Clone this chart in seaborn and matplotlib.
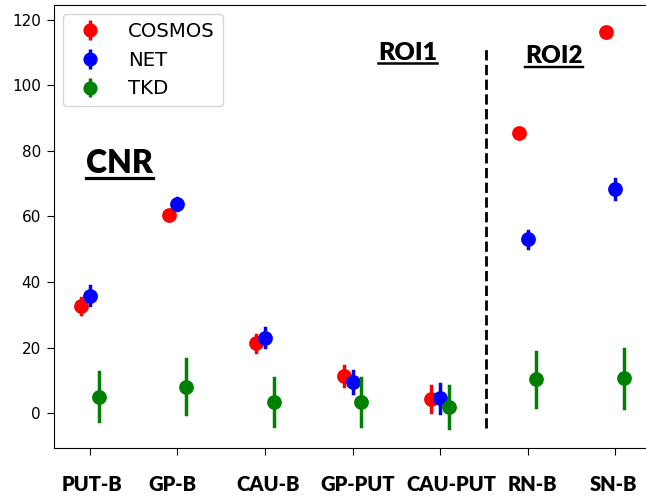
import numpy as np
import pandas as pd
import matplotlib
matplotlib.use("Agg")
import matplotlib.pyplot as plt
from matplotlib.lines import Line2D
from matplotlib.transforms import ScaledTranslation
import seaborn as sns

# ---- data ----
regions = ["PUT-B", "GP-B", "CAU-B", "GP-PUT", "CAU-PUT", "RN-B", "SN-B"]
methods = ["COSMOS", "NET", "TKD"]
colors = ["red", "blue", "green"]

cosmos_mean = [32.8, 60.5, 21.3, 11.4, 4.4, 85.5, 116.2]
cosmos_err = [2.4, 1.2, 2.6, 3.0, 4.0, 1.3, 1.3]
net_mean = [35.9, 63.7, 23.0, 9.6, 4.5, 53.0, 68.4]
net_err = [2.8, 1.8, 2.9, 3.3, 4.4, 2.7, 3.0]
tkd_mean = [5.1, 8.1, 3.5, 3.5, 1.8, 10.4, 10.7]
tkd_err = [7.6, 8.3, 7.4, 7.3, 6.4, 8.4, 9.0]

means = {"COSMOS": cosmos_mean, "NET": net_mean, "TKD": tkd_mean}
errs = {"COSMOS": cosmos_err, "NET": net_err, "TKD": tkd_err}

# long table: each (region, method) as lower/upper bound; mean = centre, min/max = bar ends
rows = []
for m in methods:
    for r, mu, e in zip(regions, means[m], errs[m]):
        rows.append({"region": r, "method": m, "value": mu - e})
        rows.append({"region": r, "method": m, "value": mu + e})
df = pd.DataFrame(rows)

fig = plt.figure(figsize=(6.46, 4.96), dpi=100)
ax = fig.add_axes([54 / 646, 48 / 496, 597 / 646, 443 / 496])

MS = 8.6
sns.pointplot(
    data=df, x="region", y="value", hue="method",
    order=regions, hue_order=methods, palette=colors,
    estimator="mean", errorbar=lambda v: (v.min(), v.max()),
    dodge=0.2, linestyles="none", markers="o",
    markersize=MS, err_kws={"linewidth": 2.5},
    legend=False, ax=ax,
)

ax.set_xlim(-0.41, 6.41)
ax.set_ylim(-10.6, 124.5)
ax.set_yticks([0, 20, 40, 60, 80, 100, 120])
ax.set_xlabel("")
ax.set_ylabel("")
ax.tick_params(axis="y", labelsize=11, length=4.7, pad=4.7)
ax.tick_params(axis="x", length=4.7, pad=15)
for lab in ax.get_xticklabels():
    lab.set_fontfamily("Lato")
    lab.set_fontweight("heavy")
    lab.set_fontsize(14.5)
offsets_px = [2, -5, 3, 5, 11, 5, -2]
for lab, dx in zip(ax.get_xticklabels(), offsets_px):
    lab.set_transform(lab.get_transform() + ScaledTranslation(dx / 100, 0, fig.dpi_scale_trans))

# divider between ROI1 and ROI2
ax.vlines(4.53, -4.4, 112, colors="black", linestyles="--", linewidth=2)

# legend with errorbar-style handles
handles = []
for m, c in zip(methods, colors):
    h = ax.errorbar([], [], yerr=[], fmt="o", color=c, markersize=MS + 0.6, elinewidth=2.5, label=m)
    handles.append(h)
ax.legend(handles=handles, labels=methods, loc="upper left", fontsize=14.2,
          handletextpad=0.9, borderaxespad=0.45)

# bold underlined annotations: (text, x, baseline y, size, underline gap px)
anns = [
    ("CNR", 86 / 646, 1 - 173 / 496, 23, 5),
    ("ROI1", 378 / 646, 1 - 60 / 496, 18, 3),
    ("ROI2", 525 / 646, 1 - 63 / 496, 17.5, 3.5),
]
texts = []
for s, x, y, fs, gap in anns:
    t = fig.text(x, y, s, fontfamily="Lato", fontweight="heavy", fontsize=fs,
                 ha="left", va="baseline")
    texts.append((t, fs, gap))

fig.canvas.draw()
renderer = fig.canvas.get_renderer()
for t, fs, gap in texts:
    bb = t.get_window_extent(renderer).transformed(fig.transFigure.inverted())
    xb, yb = t.get_position()
    uy = yb - gap / 496
    fig.add_artist(Line2D([bb.x0, bb.x1], [uy, uy], color="black",
                          linewidth=fs * 0.1, transform=fig.transFigure))

fig.savefig("out.png", dpi=100)
